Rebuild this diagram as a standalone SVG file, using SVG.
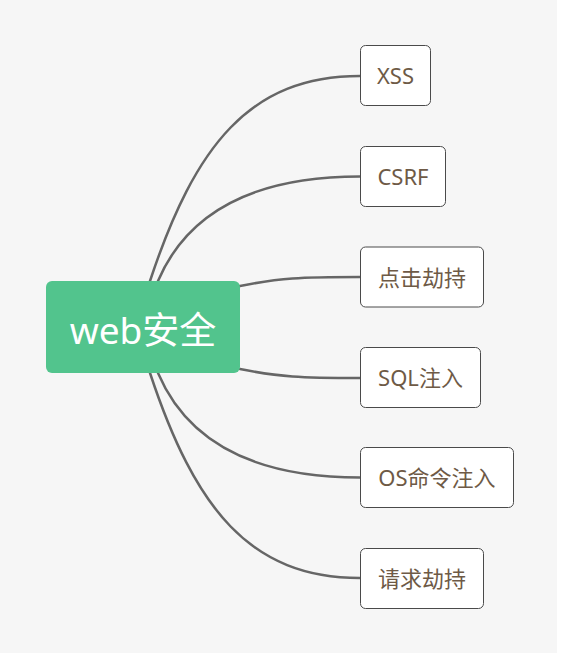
<svg xmlns="http://www.w3.org/2000/svg" width="561" height="658" viewBox="0 0 561 658">
<style>
.conn{fill:none;stroke:#666666;stroke-width:2.5;stroke-linecap:round}
.leaf rect{fill:#ffffff;stroke:#4a4a4a;stroke-width:1}
.leaf text{font-family:"Noto Sans","Noto Sans CJK SC",sans-serif;font-size:22px;fill:#6e5a46;text-anchor:middle}
.root text{font-family:"Noto Sans","Noto Sans CJK SC",sans-serif;font-size:37px;fill:#ffffff;text-anchor:middle}
</style>
<rect x="0" y="0" width="561" height="658" fill="#ffffff"/>
<rect x="0" y="0" width="557" height="653" fill="#f6f6f6"/>
<g id="connectors">
<path class="conn" d="M150,281 C195,145 250,76 360,76"/>
<path class="conn" d="M158,281 C187,213 252,176.5 360,176.5"/>
<path class="conn" d="M240,286 C280,278 300,277 360,277"/>
<path class="conn" d="M240,369 C280,377 300,378 360,378"/>
<path class="conn" d="M158,373 C187,441 252,477.5 360,477.5"/>
<path class="conn" d="M150,373 C195,509 250,578 360,578"/>
</g>
<g id="root" class="root">
<rect x="46" y="281" width="194" height="92" rx="6" fill="#52c48d"/>
<text x="143" y="344">web安全</text>
</g>
<g id="n-xss" class="leaf">
<rect x="360.5" y="45.5" width="70" height="60" rx="5"/>
<text x="395.5" y="84">XSS</text>
</g>
<g id="n-csrf" class="leaf">
<rect x="360.5" y="146.5" width="85" height="60" rx="5"/>
<text x="403" y="185">CSRF</text>
</g>
<g id="n-click" class="leaf">
<rect x="360.5" y="247" width="123" height="60" rx="5"/>
<text x="422" y="285.5">点击劫持</text>
</g>
<g id="n-sql" class="leaf">
<rect x="360.5" y="347.5" width="120" height="60" rx="5"/>
<text x="420.5" y="386">SQL注入</text>
</g>
<g id="n-os" class="leaf">
<rect x="360.5" y="447.5" width="153" height="60" rx="5"/>
<text x="437" y="486">OS命令注入</text>
</g>
<g id="n-req" class="leaf">
<rect x="360.5" y="548.5" width="123" height="60" rx="5"/>
<text x="422" y="587">请求劫持</text>
</g>
</svg>
